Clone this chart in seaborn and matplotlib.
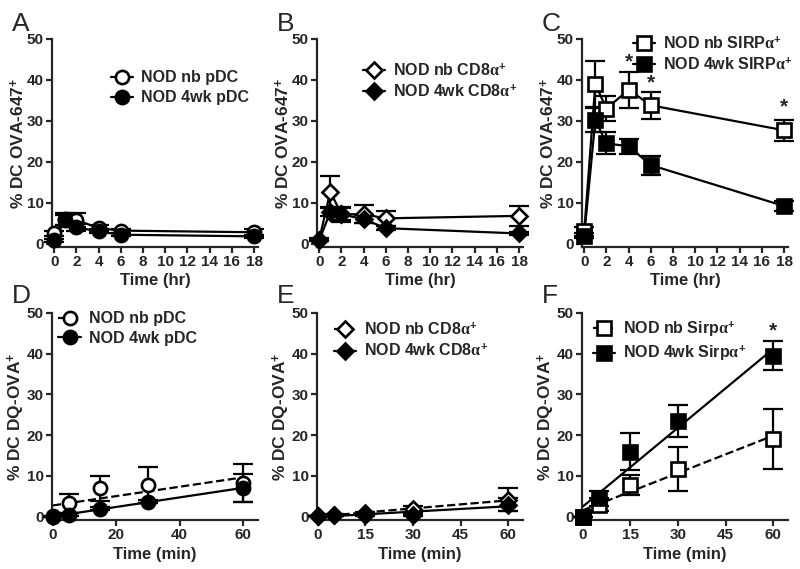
import numpy as np
import pandas as pd
import seaborn as sns
from matplotlib import pyplot as plt
from matplotlib.lines import Line2D

sns.set_style("ticks")
plt.rcParams['font.family'] = ['Liberation Sans', 'DejaVu Sans']
plt.rcParams['font.weight'] = 'bold'
plt.rcParams['mathtext.fontset'] = 'custom'
plt.rcParams['mathtext.rm'] = 'Liberation Sans:bold'
plt.rcParams['mathtext.bf'] = 'Liberation Sans:bold'
plt.rcParams['mathtext.it'] = 'Liberation Serif'

# ---- data: uptake (hr) ----
hr = [0, 1, 2, 4, 6, 18]
a_nb = [2.5, 6.0, 5.8, 3.8, 3.2, 2.8]
a_nb_err = [0.5, 1.5, 1.8, 0.8, 0.5, 0.8]
a_4wk = [0.8, 5.8, 4.0, 3.0, 2.2, 1.8]
a_4wk_err = [0.3, 1.2, 0.8, 0.5, 0.4, 0.4]

b_nb = [1.0, 12.7, 7.2, 7.2, 6.2, 6.8]
b_nb_err = [0.3, 3.8, 1.8, 2.2, 1.8, 2.5]
b_4wk = [0.8, 7.8, 7.2, 6.0, 3.8, 2.5]
b_4wk_err = [0.2, 1.0, 1.5, 1.0, 0.5, 0.3]

c_nb = [3.0, 39.0, 33.0, 37.6, 33.8, 27.7]
c_nb_err = [1.0, 5.7, 3.0, 4.4, 3.3, 2.5]
c_4wk = [2.0, 30.2, 24.5, 23.8, 19.2, 9.2]
c_4wk_err = [0.5, 3.0, 2.7, 1.8, 2.3, 1.3]
c_star_x = [4, 6, 18]
c_star_y = [42.0, 37.0, 31.0]

# ---- data: processing (min) ----
mins = [0, 5, 15, 30, 60]
d_nb = [0.2, 3.3, 7.0, 7.7, 8.3]
d_nb_err = [0.0, 2.3, 3.1, 4.4, 4.6]
d_4wk = [0.0, 0.5, 2.0, 3.7, 7.0]
d_4wk_err = [0.0, 0.3, 0.4, 0.4, 3.5]

e_nb = [0.3, 0.5, 0.8, 1.8, 4.2]
e_nb_err = [0.0, 0.2, 0.3, 0.8, 2.8]
e_4wk = [0.2, 0.4, 0.5, 0.4, 3.0]
e_4wk_err = [0.0, 0.1, 0.2, 0.2, 1.5]

f_nb = [0.0, 3.0, 7.8, 11.7, 19.0]
f_nb_err = [0.0, 1.5, 2.5, 5.3, 7.4]
f_4wk = [0.0, 4.5, 16.0, 23.5, 39.5]
f_4wk_err = [0.0, 1.8, 4.5, 3.9, 3.6]
f_star_x = [60]
f_star_y = [43.3]

fig = plt.figure(figsize=(8, 5.69), dpi=100)

W = 206 / 800
lefts = [52 / 800, 317 / 800, 582 / 800]
top_b, top_h = 1 - 247 / 569, 208 / 569
bot_b, bot_h = 1 - 520 / 569, 207 / 569

LW = 1.6


def style_axes(ax, xlim, xticks, xlabel, ylabel):
    ax.set_xlim(*xlim)
    ax.set_ylim(-0.8, 50)
    ax.set_xticks(xticks)
    ax.set_yticks([0, 10, 20, 30, 40, 50])
    ax.set_xlabel(xlabel, fontsize=12, fontweight='bold', labelpad=3)
    ax.set_ylabel(ylabel, fontsize=12.5, fontweight='bold')
    ax.yaxis.set_label_coords(-0.12, 0.5)
    for s in ['top', 'right']:
        ax.spines[s].set_visible(False)
    for s in ['left', 'bottom']:
        ax.spines[s].set_linewidth(LW)
    ax.tick_params(width=LW, length=4, labelsize=11, pad=2)
    for lab in ax.get_xticklabels() + ax.get_yticklabels():
        lab.set_fontweight('bold')


def draw_series(ax, x, y, err, marker, filled, connect=True, dashed=False):
    fc = 'black' if filled else 'white'
    ax.errorbar(x, y, yerr=err, fmt='none', ecolor='black', elinewidth=LW,
                capsize=7, capthick=LW, zorder=2, clip_on=False)
    if connect:
        sns.lineplot(x=x, y=y, ax=ax, color='black', linewidth=LW,
                     zorder=3, legend=False)
    else:
        sns.regplot(x=np.array(x, float), y=np.array(y, float), ax=ax,
                    scatter=False, ci=None, truncate=True,
                    line_kws=dict(color='black', linewidth=LW,
                                  linestyle='--' if dashed else '-', zorder=3))
    ms = 9.5 if marker != 'D' else 8.5
    ax.plot(x, y, linestyle='none', marker=marker, markersize=ms,
            markerfacecolor=fc, markeredgecolor='black', markeredgewidth=1.9,
            zorder=4, clip_on=False)


def add_legend(ax, labels, marker, pos, dashed_first=False):
    ms = 9.5 if marker != 'D' else 8.5
    h = [Line2D([], [], color='black', linewidth=LW, marker=marker, markersize=ms,
                markerfacecolor='white', markeredgecolor='black', markeredgewidth=1.9,
                linestyle='--' if dashed_first else '-'),
         Line2D([], [], color='black', linewidth=LW, marker=marker, markersize=ms,
                markerfacecolor='black', markeredgecolor='black', markeredgewidth=1.9)]
    leg = ax.legend(handles=h, labels=labels, loc='upper left', bbox_to_anchor=pos,
                    frameon=False, handlelength=1.4, handletextpad=0.5,
                    labelspacing=0.3, borderaxespad=0,
                    prop=dict(family='Liberation Sans', weight='bold', size=11.5))
    return leg


y_top = r'% DC OVA-647$^{+}$'
y_bot = r'% DC DQ-OVA$^{+}$'

# top row
top_sets = [
    ('A', a_nb, a_nb_err, a_4wk, a_4wk_err, 'o',
     ['NOD nb pDC', 'NOD 4wk pDC'], (0.255, 0.88)),
    ('B', b_nb, b_nb_err, b_4wk, b_4wk_err, 'D',
     [r'NOD nb CD8$\alpha^{+}$', r'NOD 4wk CD8$\alpha^{+}$'], (0.19, 0.92)),
    ('C', c_nb, c_nb_err, c_4wk, c_4wk_err, 's',
     [r'NOD nb SIRP$\alpha^{+}$', r'NOD 4wk SIRP$\alpha^{+}$'], (0.215, 1.05)),
]
for i, (letter, ynb, enb, y4, e4, mk, labs, pos) in enumerate(top_sets):
    ax = fig.add_axes([lefts[i], top_b, W, top_h])
    draw_series(ax, hr, ynb, enb, mk, False)
    draw_series(ax, hr, y4, e4, mk, True)
    style_axes(ax, (-0.2, 18.35), list(range(0, 19, 2)), 'Time (hr)', y_top)
    add_legend(ax, labs, mk, pos)
    fig.text(lefts[i] - 40 / 800, 1 - 31 / 569, letter, fontsize=19,
             fontweight='normal')
    if letter == 'C':
        for sx, sy in zip(c_star_x, c_star_y):
            ax.text(sx, sy, '*', ha='center', va='bottom', fontsize=15)

# bottom row
bot_sets = [
    ('D', d_nb, d_nb_err, d_4wk, d_4wk_err, 'o',
     ['NOD nb pDC', 'NOD 4wk pDC'], (0.0, 1.04), [0, 20, 40, 60]),
    ('E', e_nb, e_nb_err, e_4wk, e_4wk_err, 'D',
     [r'NOD nb CD8$\alpha^{+}$', r'NOD 4wk CD8$\alpha^{+}$'], (0.05, 0.99),
     [0, 15, 30, 45, 60]),
    ('F', f_nb, f_nb_err, f_4wk, f_4wk_err, 's',
     [r'NOD nb Sirp$\alpha^{+}$', r'NOD 4wk Sirp$\alpha^{+}$'], (0.02, 1.0),
     [0, 15, 30, 45, 60]),
]
for i, (letter, ynb, enb, y4, e4, mk, labs, pos, xt) in enumerate(bot_sets):
    ax = fig.add_axes([lefts[i], bot_b, W, bot_h])
    draw_series(ax, mins, ynb, enb, mk, False, connect=False, dashed=True)
    draw_series(ax, mins, y4, e4, mk, True, connect=False)
    style_axes(ax, (-0.3, 64.7), xt, 'Time (min)', y_bot)
    add_legend(ax, labs, mk, pos, dashed_first=True)
    fig.text(lefts[i] - 40 / 800, 1 - 303 / 569, letter, fontsize=19,
             fontweight='normal')
    if letter == 'F':
        for sx, sy in zip(f_star_x, f_star_y):
            ax.text(sx, sy, '*', ha='center', va='bottom', fontsize=15)

fig.savefig('out.png', dpi=100)
